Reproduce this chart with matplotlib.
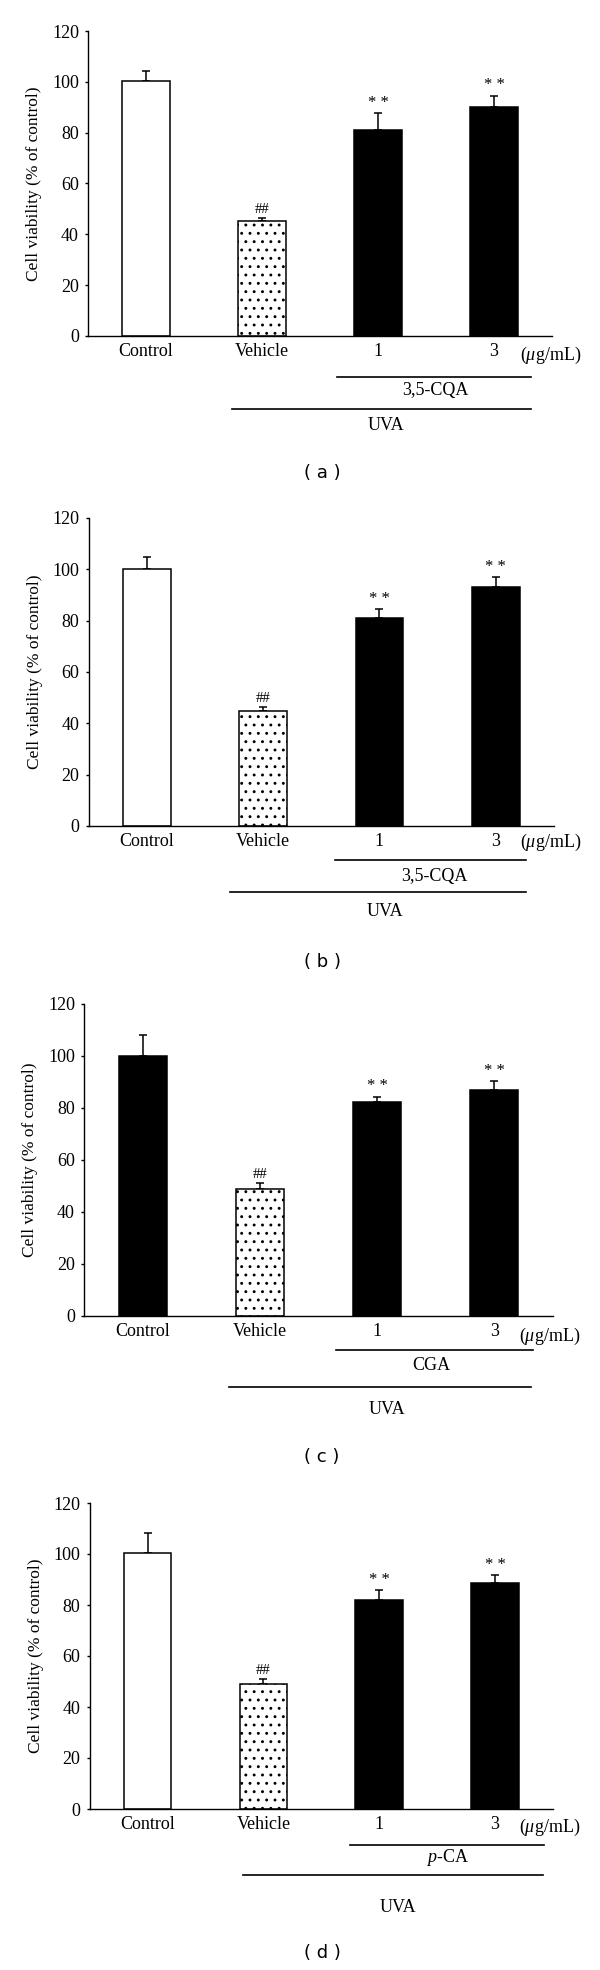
import matplotlib
matplotlib.use("Agg")
import matplotlib.pyplot as plt
from matplotlib.transforms import ScaledTranslation

plt.rcParams['font.family'] = ['Liberation Serif', 'DejaVu Serif']
plt.rcParams['mathtext.fontset'] = 'custom'
plt.rcParams['mathtext.rm'] = 'Liberation Serif'
plt.rcParams['mathtext.it'] = 'Liberation Serif:italic'
plt.rcParams['hatch.linewidth'] = 0.9

# ---------------- data ----------------
groups = ["Control", "Vehicle", "1", "3"]
unit_label = r"($\mu$g/mL)"

means_a = [100.3, 45.2, 81.1, 90.1]
errs_a = [4.1, 1.3, 6.7, 4.5]
means_b = [100.2, 44.9, 81.0, 93.0]
errs_b = [4.5, 1.6, 3.5, 4.1]
means_c = [99.9, 49.0, 82.3, 87.1]
errs_c = [8.3, 2.1, 2.1, 3.3]
means_d = [100.2, 49.2, 82.0, 88.7]
errs_d = [8.1, 1.7, 3.8, 3.1]

marks = ["", "##", "* *", "* *"]
treatments = ["3,5-CQA", "3,5-CQA", "CGA", "$p$-CA"]
tags = ["( a )", "( b )", "( c )", "( d )"]
control_fill = ["white", "white", "black", "white"]
yticks = [0, 20, 40, 60, 80, 100, 120]
ylabel = "Cell viability (% of control)"

# ---------------- layout (pixels of a 600 x 1970 figure) ----------------
W, H = 600, 1970
# left, right, top(120), bottom(0)
boxes = [(88, 552, 31, 336), (88.5, 554, 518, 826),
         (84, 553, 1004, 1316), (89.6, 553, 1503, 1809)]
# offsets below axis bottom (px): tick, line1, text1, line2, text2, tag
offs = [(19, 41, 55, 73, 90, 137), (16, 34, 51, 66, 86, 136),
        (20, 34, 49, 71, 94, 141), (18, 36, 49, 66, 98, 144)]
line1_x = [(1.65, 3.32), (1.62, 3.26), (1.65, 3.33), (1.75, 3.42)]
line2_x = [(0.74, 3.32), (0.72, 3.26), (0.74, 3.31), (0.82, 3.41)]
text1_x = [2.49, 2.47, 2.46, 2.585]
text2_x = [2.07, 2.05, 2.08, 2.16]
unit_x = [3.22, 3.21, 3.21, 3.21]
tag_x = 322

FS = 13
fig = plt.figure(figsize=(W / 100, H / 100), dpi=100)

panels = [(means_a, errs_a), (means_b, errs_b), (means_c, errs_c), (means_d, errs_d)]

for i, (means, errs) in enumerate(panels):
    l, r, t, b = boxes[i]
    ax = fig.add_axes([l / W, 1 - b / H, (r - l) / W, (b - t) / H])
    x = list(range(len(groups)))
    colors = [control_fill[i], "white", "black", "black"]
    ax.errorbar(x, means, yerr=[[0] * 4, errs], fmt='none', ecolor='black',
                elinewidth=1.1, capsize=3, capthick=1.1, zorder=1)
    bars = ax.bar(x, means, width=0.41, color=colors, edgecolor='black',
                  linewidth=1.1, zorder=2)
    bars[1].set_hatch('..')
    for j in range(4):
        if marks[j]:
            ax.annotate(marks[j], xy=(x[j], means[j] + errs[j]), xytext=(0, 1.5),
                        textcoords='offset points', ha='center', va='bottom',
                        fontsize=10.5 if marks[j] == "##" else 12)

    ax.set_xlim(-0.5, 3.5)
    ax.set_ylim(0, 120)
    ax.set_yticks(yticks)
    ax.set_xticks(x)
    ax.set_xticklabels(groups)
    for s in ("top", "right"):
        ax.spines[s].set_visible(False)
    for s in ("left", "bottom"):
        ax.spines[s].set_linewidth(1.0)
    ax.tick_params(axis='y', direction='out', length=2.5, width=1.0, pad=4, labelsize=FS)
    ax.tick_params(axis='x', length=0, pad=5, labelsize=FS)
    ax.set_ylabel(ylabel, fontsize=FS - 0.5, labelpad=7)

    o = offs[i]

    def tr(dy):
        return ax.get_xaxis_transform() + ScaledTranslation(0, -dy / 100, fig.dpi_scale_trans)

    ax.text(unit_x[i], 0, unit_label, transform=tr(o[0]), ha='left', va='center', fontsize=FS)
    ax.plot(line1_x[i], [0, 0], color='black', lw=1.2, transform=tr(o[1]), clip_on=False)
    ax.text(text1_x[i], 0, treatments[i], transform=tr(o[2]), ha='center', va='center', fontsize=FS)
    ax.plot(line2_x[i], [0, 0], color='black', lw=1.2, transform=tr(o[3]), clip_on=False)
    ax.text(text2_x[i], 0, "UVA", transform=tr(o[4]), ha='center', va='center', fontsize=FS)
    fig.text(tag_x / W, 1 - (b + o[5]) / H, tags[i], family='DejaVu Sans', fontsize=13,
             ha='center', va='center')

fig.savefig("out.png", dpi=100)
